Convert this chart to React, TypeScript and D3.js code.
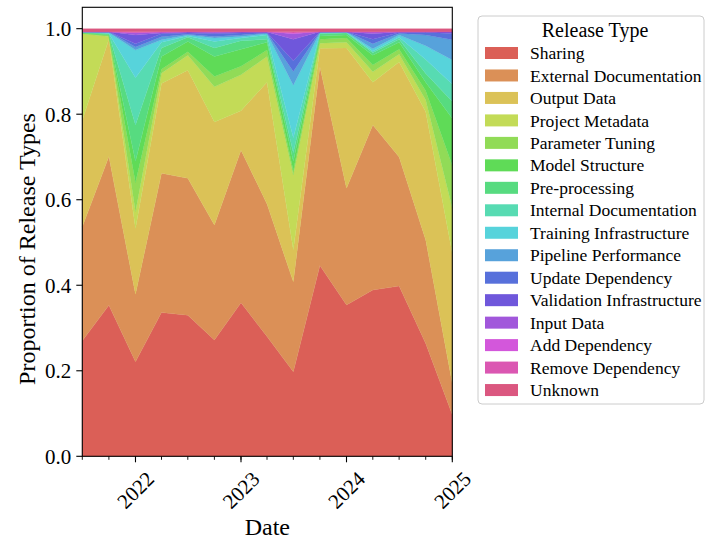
import React from "react";
import * as d3 from "d3";

// Quarterly dates
const dates = [
  "2021-07-01", "2021-10-01", "2022-01-01", "2022-04-01", "2022-07-01",
  "2022-10-01", "2023-01-01", "2023-04-01", "2023-07-01", "2023-10-01",
  "2024-01-01", "2024-04-01", "2024-07-01", "2024-10-01", "2025-01-01",
];

const categories = [
  "Sharing", "External Documentation", "Output Data", "Project Metadata",
  "Parameter Tuning", "Model Structure", "Pre-processing", "Internal Documentation",
  "Training Infrastructure", "Pipeline Performance", "Update Dependency",
  "Validation Infrastructure", "Input Data", "Add Dependency", "Remove Dependency", "Unknown",
];

const sharing = [0.270, 0.353, 0.221, 0.336, 0.330, 0.272, 0.359, 0.280, 0.198, 0.446, 0.354, 0.389, 0.398, 0.264, 0.097];
const externalDocumentation = [0.267, 0.348, 0.158, 0.326, 0.320, 0.269, 0.357, 0.310, 0.210, 0.465, 0.273, 0.386, 0.302, 0.242, 0.073];
const outputData = [0.249, 0.274, 0.154, 0.210, 0.253, 0.241, 0.092, 0.285, 0.075, 0.043, 0.328, 0.100, 0.222, 0.300, 0.305];
const projectMetadata = [0.202, 0.007, 0.039, 0.024, 0.035, 0.082, 0.084, 0.060, 0.175, 0.012, 0.013, 0.024, 0.018, 0.027, 0.105];
const parameterTuning = [0.001, 0.002, 0.068, 0.009, 0.008, 0.024, 0.020, 0.015, 0.010, 0.009, 0.010, 0.016, 0.012, 0.022, 0.100];
const modelStructure = [0.001, 0.002, 0.050, 0.030, 0.024, 0.047, 0.040, 0.018, 0.022, 0.008, 0.007, 0.023, 0.016, 0.020, 0.110];
const preProcessing = [0.001, 0.002, 0.085, 0.020, 0.010, 0.020, 0.020, 0.007, 0.020, 0.005, 0.005, 0.006, 0.007, 0.020, 0.040];
const internalDocumentation = [0.001, 0.001, 0.110, 0.013, 0.003, 0.015, 0.006, 0.010, 0.035, 0.002, 0.001, 0.003, 0.005, 0.033, 0.040];
const trainingInfrastructure = [0.001, 0.002, 0.065, 0.006, 0.002, 0.008, 0.004, 0.003, 0.123, 0.001, 0.001, 0.006, 0.005, 0.032, 0.057];
const pipelinePerformance = [0.000, 0.001, 0.007, 0.007, 0.002, 0.004, 0.003, 0.002, 0.032, 0.001, 0.001, 0.012, 0.004, 0.025, 0.047];
const updateDependency = [0.000, 0.001, 0.008, 0.007, 0.003, 0.006, 0.005, 0.001, 0.025, 0.001, 0.000, 0.010, 0.002, 0.006, 0.015];
const validationInfrastructure = [0.000, 0.000, 0.020, 0.002, 0.002, 0.003, 0.002, 0.001, 0.050, 0.000, 0.000, 0.013, 0.001, 0.002, 0.003];
const inputData = [0.000, 0.000, 0.005, 0.002, 0.001, 0.001, 0.001, 0.001, 0.013, 0.000, 0.000, 0.004, 0.001, 0.000, 0.001];
const addDependency = [0.000, 0.000, 0.001, 0.000, 0.000, 0.001, 0.000, 0.000, 0.002, 0.000, 0.000, 0.000, 0.000, 0.000, 0.000];
const removeDependency = [0.000, 0.000, 0.002, 0.001, 0.000, 0.000, 0.000, 0.000, 0.003, 0.000, 0.000, 0.001, 0.000, 0.000, 0.000];
const unknown = [0.007, 0.007, 0.007, 0.007, 0.007, 0.007, 0.007, 0.007, 0.007, 0.007, 0.007, 0.007, 0.007, 0.007, 0.007];

const seriesValues = [
  sharing, externalDocumentation, outputData, projectMetadata, parameterTuning,
  modelStructure, preProcessing, internalDocumentation, trainingInfrastructure,
  pipelinePerformance, updateDependency, validationInfrastructure, inputData,
  addDependency, removeDependency, unknown,
];

const yTicks = [0, 0.2, 0.4, 0.6, 0.8, 1.0];
const xTickYears = ["2022-01-01", "2023-01-01", "2024-01-01", "2025-01-01"];

const FONT = "'Liberation Serif', 'DejaVu Serif', serif";

export default function App() {
  const W = 706;
  const H = 542;
  const left = 82.3, right = 452.3, top = 7.3, bottom = 456.3;
  const parse = d3.utcParse("%Y-%m-%d");
  const dateObjs = dates.map((d) => parse(d) as Date);

  const x = d3.scaleUtc().domain([dateObjs[0], dateObjs[dateObjs.length - 1]]).range([left, right]);
  const y = d3.scaleLinear().domain([0, 1.05]).range([bottom, top]);

  const rows = dateObjs.map((d, i) => {
    const r: any = { date: d };
    categories.forEach((c, j) => (r[c] = seriesValues[j][i]));
    return r;
  });
  const stacked = d3.stack<any>().keys(categories)(rows);
  const area = d3
    .area<any>()
    .x((d) => x(d.data.date))
    .y0((d) => y(d[0]))
    .y1((d) => y(d[1]));

  const n = categories.length;
  const colors = categories.map((_, i) =>
    d3.hsl(((0.01 + i / n) % 1) * 360, 0.65, 0.6).formatHex()
  );

  const majorTicks = xTickYears.map((d) => parse(d) as Date);
  const minorTicks = d3.utcMonth.every(3)!.range(dateObjs[0], new Date(dateObjs[dateObjs.length - 1].getTime() + 1));
  const fmt = d3.format(".1f");

  const legendX = 478, legendY = 16, legendW = 226, legendH = 388;
  const rowStep = 22.47;
  const firstRowY = 53;

  return (
    <svg
      width={W}
      height={H}
      style={{ position: "absolute", left: 0, top: 0, background: "white" }}
      fontFamily={FONT}
    >
      <rect x={0} y={0} width={W} height={H} fill="white" />
      <g>
        {stacked.map((s, i) => (
          <path key={s.key} d={area(s) || ""} fill={colors[i]} stroke={colors[i]} strokeWidth={0.3} />
        ))}
      </g>
      {/* frame */}
      <rect x={left} y={top} width={right - left} height={bottom - top} fill="none" stroke="black" strokeWidth={1.1} />

      {/* y axis */}
      {yTicks.map((t) => (
        <g key={t}>
          <line x1={left - 6} x2={left} y1={y(t)} y2={y(t)} stroke="black" strokeWidth={1.1} />
          <text x={left - 11} y={y(t)} dy="0.35em" textAnchor="end" fontSize={21} fill="black">
            {fmt(t)}
          </text>
        </g>
      ))}

      {/* x axis minor ticks */}
      {minorTicks.map((t, i) => (
        <line key={"m" + i} x1={x(t)} x2={x(t)} y1={bottom} y2={bottom + 3.5} stroke="black" strokeWidth={0.9} />
      ))}
      {majorTicks.map((t, i) => (
        <g key={"M" + i}>
          <line x1={x(t)} x2={x(t)} y1={bottom} y2={bottom + 6} stroke="black" strokeWidth={1.1} />
          <text
            x={x(t)}
            y={490}
            dy="0.35em"
            textAnchor="middle"
            fontSize={21}
            fill="black"
            transform={`rotate(-45, ${x(t)}, 490)`}
          >
            {d3.utcFormat("%Y")(t)}
          </text>
        </g>
      ))}

      {/* axis labels */}
      <text x={(left + right) / 2} y={535} textAnchor="middle" fontSize={24} fill="black">
        Date
      </text>
      <text
        x={0}
        y={0}
        textAnchor="middle"
        fontSize={24}
        fill="black"
        transform={`translate(35, 249) rotate(-90)`}
      >
        Proportion of Release Types
      </text>

      {/* legend */}
      <g>
        <rect x={legendX} y={legendY} width={legendW} height={legendH} rx={4} fill="white" fillOpacity={0.8} stroke="#cccccc" strokeWidth={1} />
        <text x={595} y={37} textAnchor="middle" fontSize={20} fill="black">
          Release Type
        </text>
        {categories.map((c, i) => {
          const cy = firstRowY + i * rowStep;
          return (
            <g key={c}>
              <rect x={485} y={cy - 6} width={33} height={12} fill={colors[i]} />
              <text x={530} y={cy} dy="0.35em" fontSize={17.5} fill="black">
                {c}
              </text>
            </g>
          );
        })}
      </g>
    </svg>
  );
}
